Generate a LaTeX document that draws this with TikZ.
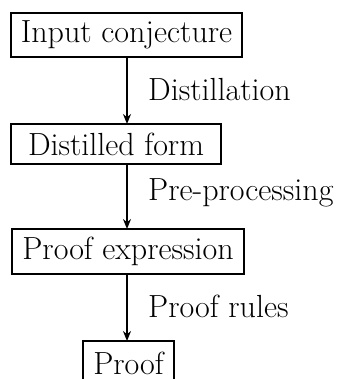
\documentclass[tikz,border=0pt]{standalone}
\usetikzlibrary{arrows.meta}
\begin{document}
\begin{tikzpicture}[x=1pt,y=1pt,
  stage/.style={draw, line width=2.2pt, inner sep=0pt, anchor=center,
    font=\fontsize{32}{38}\selectfont},
  flow/.style={line width=1.8pt, -{Stealth[length=10pt,width=8pt]}},
  step label/.style={anchor=west, inner sep=0pt, font=\fontsize{32}{38}\selectfont}]
\useasboundingbox (0,0) rectangle (338,-379);
\node[stage, minimum width=231pt, minimum height=44pt] (input) at (126.5,-35) {Input conjecture};
\node[stage, minimum width=210pt, minimum height=40pt] (dist) at (116,-144) {Distilled form};
\node[stage, minimum width=232pt, minimum height=45pt] (expr) at (128,-251.5) {Proof expression};
\node[stage, minimum width=91pt, minimum height=44pt] (proof) at (128.5,-363) {Proof};
\coordinate (c1) at (127,-57);
\coordinate (c2) at (127,-124);
\coordinate (c3) at (127,-164);
\coordinate (c4) at (127,-229);
\coordinate (c5) at (127,-274);
\coordinate (c6) at (127,-341);
\draw[flow] (c1) -- (c2);
\draw[flow] (c3) -- (c4);
\draw[flow] (c5) -- (c6);
\node[step label] (l1) at (148,-90) {Distillation};
\node[step label] (l2) at (148,-193) {Pre-processing};
\node[step label] (l3) at (148,-306) {Proof rules};
\end{tikzpicture}
\end{document}
